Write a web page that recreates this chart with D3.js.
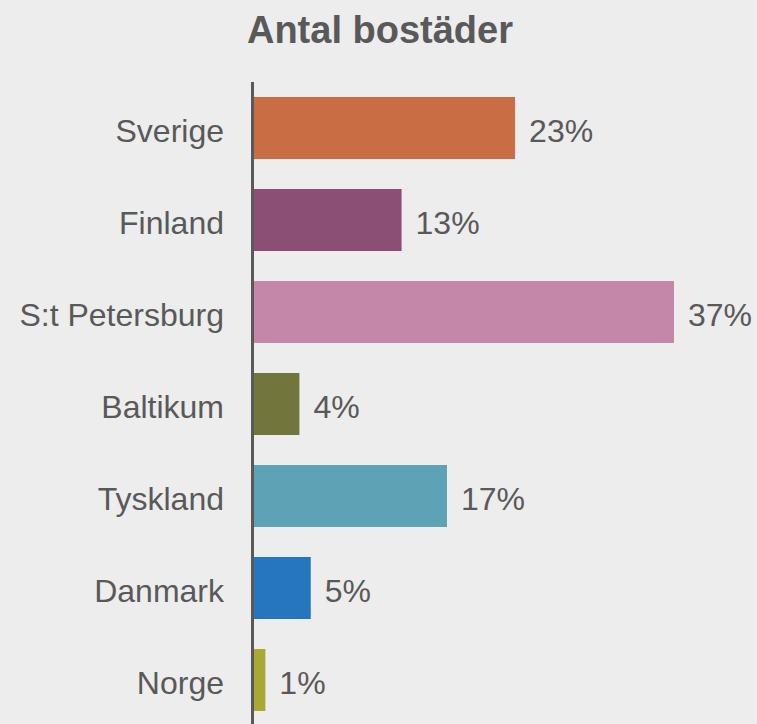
<!DOCTYPE html>
<html>
<head>
<meta charset="utf-8">
<script src="https://cdn.jsdelivr.net/npm/d3@7"></script>
<style>
  html, body { margin: 0; padding: 0; background: #ededed; }
  svg { display: block; font-family: "Liberation Sans", Arial, sans-serif; }
</style>
</head>
<body>
<svg id="chart" width="757" height="724"></svg>
<script>
const categories = ["Sverige", "Finland", "S:t Petersburg", "Baltikum", "Tyskland", "Danmark", "Norge"]
const values = [23, 13, 37, 4, 17, 5, 1]
const barColors = ["#c96d44", "#8b4e74", "#c487aa", "#72763c", "#5ea3b5", "#2576bf", "#a8a832"]
const title = "Antal bostäder"

const svg = d3.select("#chart")
const width = 757, height = 724
const margin = { top: 82, left: 254 }

svg.append("rect").attr("width", width).attr("height", height).attr("fill", "#ededed")

// px per percent (~11.35)
const x = d3.scaleLinear().domain([0, 37]).range([margin.left, 674])
const y = d3.scaleBand().domain(categories).range([margin.top, margin.top + 644]).paddingInner(0.326).paddingOuter(0.163)

svg.append("text")
  .attr("x", 380)
  .attr("y", 43)
  .attr("text-anchor", "middle")
  .attr("font-size", 38)
  .attr("font-weight", "bold")
  .attr("fill", "#595959")
  .text(title)

const rows = categories.map((c, i) => ({ cat: c, val: values[i], color: barColors[i] }))

svg.append("g").selectAll("rect")
  .data(rows)
  .enter()
  .append("rect")
  .attr("x", x(0))
  .attr("y", d => y(d.cat))
  .attr("width", d => x(d.val) - x(0))
  .attr("height", y.bandwidth())
  .attr("fill", d => d.color)

// value labels
svg.append("g").selectAll("text")
  .data(rows)
  .enter()
  .append("text")
  .attr("x", d => x(d.val) + 14)
  .attr("y", d => y(d.cat) + y.bandwidth() / 2 + 14)
  .attr("font-size", 32)
  .attr("fill", "#595959")
  .text(d => d.val + "%")

// category labels
svg.append("g").selectAll("text")
  .data(rows)
  .enter()
  .append("text")
  .attr("x", 224)
  .attr("y", d => y(d.cat) + y.bandwidth() / 2 + 14)
  .attr("text-anchor", "end")
  .attr("font-size", 32)
  .attr("fill", "#595959")
  .text(d => d.cat)

// axis line
svg.append("line")
  .attr("x1", 252.5).attr("x2", 252.5)
  .attr("y1", margin.top).attr("y2", height)
  .attr("stroke", "#595959")
  .attr("stroke-width", 3)
</script>
</body>
</html>
